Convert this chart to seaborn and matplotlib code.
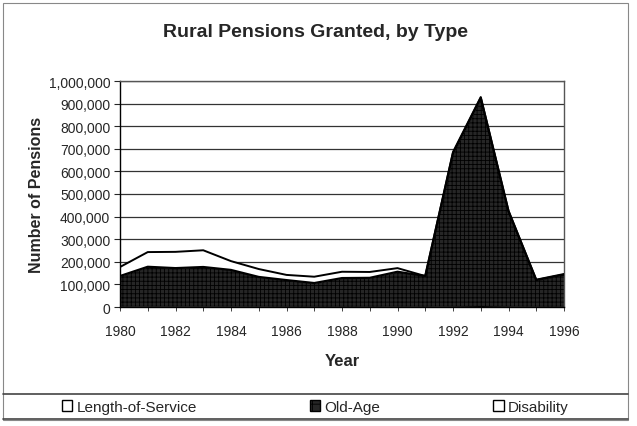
import numpy as np
import pandas as pd
import seaborn as sns
import matplotlib.pyplot as plt
from matplotlib.patches import Patch, Rectangle
from matplotlib.ticker import FuncFormatter, MultipleLocator

years = list(range(1980, 1997))
length_of_service = [2000, 2500, 2500, 2500, 2000, 2000, 1500, 1500, 1500, 1500, 2000, 1500, 3000, 4000, 3000, 1500, 1500]
old_age = [135000, 175500, 169500, 174500, 162000, 131000, 117500, 104500, 126500, 127500, 154000, 135500, 677000, 921000, 421000, 117500, 141500]
disability = [40000, 65000, 72000, 74000, 39000, 35000, 23000, 28000, 28000, 26000, 16000, 0, 6000, 4000, 2000, 2000, 3000]

df = pd.DataFrame({"Year": years, "Length-of-Service": length_of_service,
                   "Old-Age": old_age, "Disability": disability})
df["s1"] = df["Length-of-Service"]
df["s2"] = df["s1"] + df["Old-Age"]
df["s3"] = df["s2"] + df["Disability"]

sns.set_style("white")
plt.rcParams["font.family"] = ["Liberation Sans", "DejaVu Sans"]
plt.rcParams["hatch.color"] = "#8a8a8a"
plt.rcParams["hatch.linewidth"] = 0.6

fig = plt.figure(figsize=(6.37, 4.27), dpi=100)
ax = fig.add_axes([120 / 637, 1 - 308 / 427, 444 / 637, 226 / 427])

ax.fill_between(df["Year"], 0, df["s1"], facecolor="white", edgecolor="black", lw=0.8, zorder=2)
ax.fill_between(df["Year"], df["s1"], df["s2"], facecolor="#262626", hatch="++++",
                edgecolor="black", lw=0, zorder=2)
ax.fill_between(df["Year"], df["s2"], df["s3"], facecolor="white", lw=0, zorder=2)
sns.lineplot(data=df, x="Year", y="s2", color="black", lw=1.6, ax=ax, zorder=3)
sns.lineplot(data=df, x="Year", y="s3", color="black", lw=1.4, ax=ax, zorder=3)

ax.set_xlim(1980, 1996)
ax.set_ylim(0, 1000000)
ax.yaxis.set_major_locator(MultipleLocator(100000))
ax.yaxis.set_major_formatter(FuncFormatter(lambda v, p: f"{int(v):,}"))
ax.xaxis.set_major_locator(MultipleLocator(2))
ax.xaxis.set_minor_locator(MultipleLocator(1))
ax.grid(axis="y", color="#333333", lw=0.9, zorder=1)
ax.set_axisbelow(True)
for s in ax.spines.values():
    s.set_color("#555555")
    s.set_linewidth(1)
ax.spines["left"].set_color("black")
ax.spines["bottom"].set_color("black")
ax.tick_params(axis="y", which="major", direction="out", length=4, width=0.8, labelsize=10, pad=3, left=True)
ax.tick_params(axis="x", which="both", direction="out", length=3, width=0.6, labelsize=10, pad=9, bottom=True)

ax.set_xlabel("Year", fontsize=12, weight="bold", labelpad=11)
ax.set_ylabel("Number of Pensions", fontsize=11.5, weight="bold", labelpad=3)
fig.text(0.495, 0.925, "Rural Pensions Granted, by Type", ha="center", va="center",
         fontsize=14, weight="bold")

handles = [Patch(facecolor="white", edgecolor="black", lw=1, label="Length-of-Service"),
           Patch(facecolor="#262626", edgecolor="black", hatch="++", lw=1, label="Old-Age"),
           Patch(facecolor="white", edgecolor="black", lw=1, label="Disability")]
fig.legend(handles=handles, ncol=3, loc="center left", bbox_to_anchor=(48 / 637, 1 - 408 / 427),
           frameon=False, fontsize=11, handlelength=0.7, handleheight=0.7,
           handletextpad=0.25, columnspacing=7.4)

fig.add_artist(Rectangle((3 / 637, 1 - 421 / 427), 625 / 637, 417 / 427, transform=fig.transFigure,
                         fill=False, edgecolor="#888888", lw=0.8))
fig.add_artist(plt.Line2D([3 / 637, 628 / 637], [1 - 395 / 427] * 2, transform=fig.transFigure,
                          color="#444444", lw=1.2))
fig.add_artist(plt.Line2D([3 / 637, 628 / 637], [1 - 420 / 427] * 2, transform=fig.transFigure,
                          color="#444444", lw=1.2))

fig.savefig("out.png", dpi=100)
